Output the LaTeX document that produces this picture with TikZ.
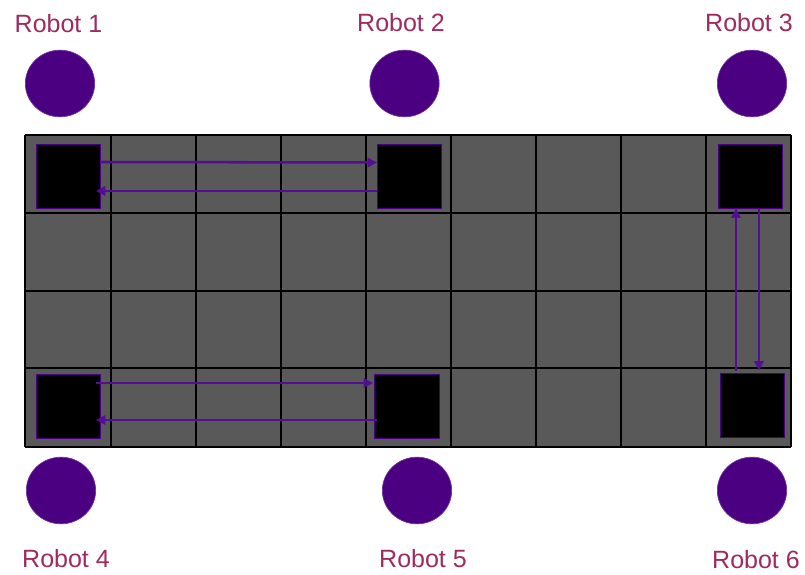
\documentclass[tikz,border=0pt]{standalone}
\usepackage{fontspec}
\setmainfont{Liberation Sans}
\usetikzlibrary{arrows.meta,shapes.geometric}
\definecolor{indig}{RGB}{75,0,130}
\definecolor{arrcol}{RGB}{84,14,150}
\definecolor{lbl}{RGB}{158,42,94}
\definecolor{cellgray}{RGB}{89,89,89}
\tikzset{
  sq/.style={rectangle,fill=black,draw=indig,line width=0.6pt,minimum width=48pt,minimum height=48pt,inner sep=0pt,outer sep=0pt},
  bot/.style={ellipse,fill=indig,draw=indig!80!white,line width=0.5pt,minimum width=52pt,minimum height=50pt,inner sep=0pt},
  lab/.style={anchor=base,text=lbl,font=\fontsize{18.75pt}{22pt}\selectfont,inner sep=0pt},
  arr/.style={draw=arrcol,line width=1.9pt,-{Triangle[length=7pt,width=7pt]}},
  gridline/.style={draw=black,line width=1.3pt}
}
\begin{document}
\begin{tikzpicture}[x=0.75pt,y=-0.75pt]
\useasboundingbox (0,0) rectangle (805,574);
% grid
\fill[cellgray] (25,135) rectangle (791,447);
\foreach \xx in {25,111,196,281,366,451,536,621,706,791}
  \draw[gridline] (\xx,135) -- (\xx,447);
\foreach \yy in {135,213,291,368,447}
  \draw[gridline] (25,\yy) -- (791,\yy);
% squares
\node[sq] (s1) at (68,176) {};
\node[sq] (s2) at (409,176.5) {};
\node[sq] (s3) at (750,176.5) {};
\node[sq] (s4) at (68,406) {};
\node[sq,minimum width=48.75pt] (s5) at (406.5,406) {};
\node[sq] (s6) at (752,405.5) {};
% robots
\node[bot] (c1) at (60,83.5) {};
\node[bot] (c2) at (404.5,83.5) {};
\node[bot] (c3) at (752,83.5) {};
\node[bot] (c4) at (61,490.5) {};
\node[bot] (c5) at (417,490.5) {};
\node[bot] (c6) at (752,490.5) {};
% labels
\node[lab] (l1) at (58.5,33) {Robot 1};
\node[lab] (l2) at (401,32) {Robot 2};
\node[lab] (l3) at (749,32) {Robot 3};
\node[lab] (l4) at (66,567) {Robot 4};
\node[lab] (l5) at (423,567) {Robot 5};
\node[lab] (l6) at (756,568) {Robot 6};
% arrows
\draw[arr] ([yshift=10.5pt]s1.east) -- ([yshift=10.5pt]s2.west);
\draw[arr] ([yshift=-10.875pt]s2.west) -- ([xshift=-3pt,yshift=-11.25pt]s1.east);
\draw[arr] ([xshift=-3pt,yshift=17.25pt]s4.east) -- ([xshift=-0.75pt,yshift=17.25pt]s5.west);
\draw[arr] ([xshift=2.25pt,yshift=-10.5pt]s5.west) -- ([xshift=-3pt,yshift=-10.5pt]s4.east);
\draw[arr] ([xshift=-12pt,yshift=2.25pt]s6.north) -- ([xshift=-10.5pt]s3.south);
\draw[arr] ([xshift=6.75pt]s3.south) -- ([xshift=5.25pt,yshift=2.25pt]s6.north);
\end{tikzpicture}
\end{document}
